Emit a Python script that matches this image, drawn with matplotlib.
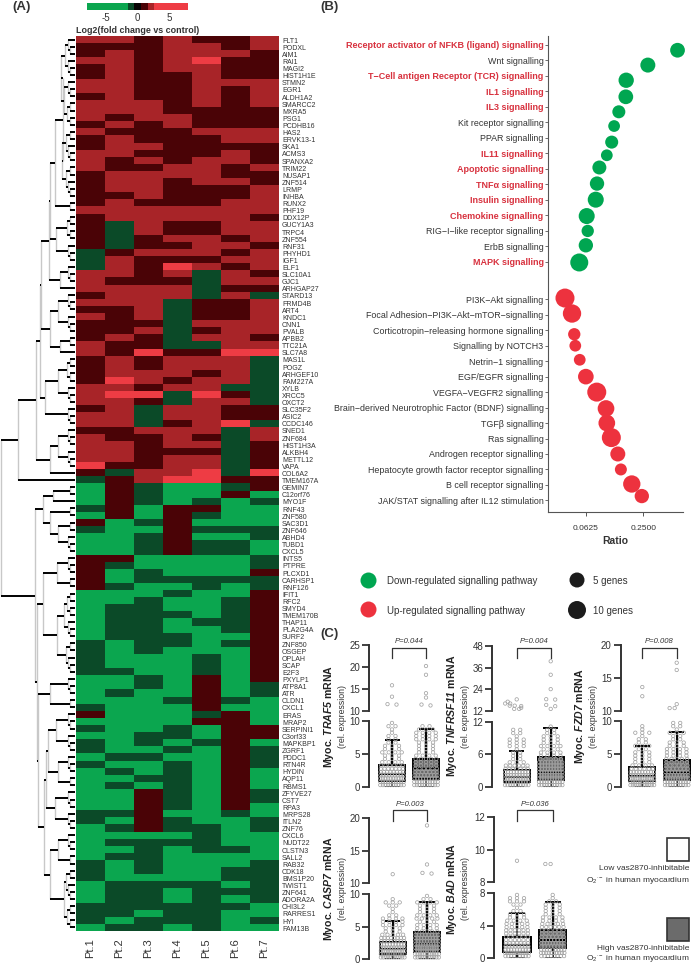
#!/usr/bin/env python3
import matplotlib
matplotlib.use('Agg')
import matplotlib.pyplot as plt
from matplotlib.colors import ListedColormap, BoundaryNorm
from matplotlib.patches import Rectangle
import numpy as np

plt.rcParams['font.family'] = ['Liberation Sans', 'DejaVu Sans']
plt.rcParams['mathtext.fontset'] = 'custom'
plt.rcParams['mathtext.rm'] = 'Liberation Sans'
plt.rcParams['mathtext.it'] = 'Liberation Sans:italic'
plt.rcParams['mathtext.bf'] = 'Liberation Sans:bold'
plt.rcParams['mathtext.bfit'] = 'Liberation Sans:italic:bold'

W, H = 691, 965
TXT = '#333333'

# ---- panel A data
genes = ['FLT1', 'PODXL', 'AIM1', 'RAI1', 'MAGI2', 'HIST1H1E', 'STMN2', 'EGR1', 'ALDH1A2', 'SMARCC2',
         'MXRA5', 'PSG1', 'PCDHB16', 'HAS2', 'ERVK13-1', 'SKA1', 'ACMS3', 'SPANXA2', 'TRIM22', 'NUSAP1',
         'ZNF514', 'LRMP', 'INHBA', 'RUNX2', 'PHF19', 'DDX12P', 'GUCY1A3', 'TRPC4', 'ZNF554', 'RNF31',
         'PHYHD1', 'IGF1', 'ELF1', 'SLC10A1', 'GJC1', 'ARHGAP27', 'STARD13', 'FRMD4B', 'ART4', 'KNDC1',
         'CNN1', 'PVALB', 'APBB2', 'TTC21A', 'SLC7A8', 'MAS1L', 'POGZ', 'ARHGEF10', 'FAM227A', 'XYLB',
         'XRCC5', 'OXCT2', 'SLC35F2', 'ASIC2', 'CCDC146', 'SNED1', 'ZNF684', 'HIST1H3A', 'ALKBH4', 'METTL12',
         'VAPA', 'COL6A2', 'TMEM167A', 'GEMIN7', 'C12orf76', 'MYO1F', 'RNF43', 'ZNF580', 'SAC3D1', 'ZNF646',
         'ABHD4', 'TUBD1', 'CXCL5', 'INTS5', 'PTPRE', 'PLCXD1', 'CARHSP1', 'RNF126', 'IFIT1', 'RFC2',
         'SMYD4', 'TMEM170B', 'THAP11', 'PLA2G4A', 'SURF2', 'ZNF850', 'OSGEP', 'OPLAH', 'SCAP', 'E2F3',
         'PXYLP1', 'ATP8A1', 'ATR', 'CLDN1', 'CXCL1', 'ERAS', 'MRAP2', 'SERPINI1', 'C3orf33', 'MAPKBP1',
         'ZGRF1', 'PDDC1', 'RTN4R', 'HYDIN', 'AQP11', 'RBMS1', 'ZFYVE27', 'CST7', 'RPA3', 'MRPS28',
         'ITLN2', 'ZNF76', 'CXCL6', 'NUDT22', 'CLSTN3', 'SALL2', 'RAB32', 'CDK18', 'BMS1P20', 'TWIST1',
         'ZNF641', 'ADORA2A', 'CHI3L2', 'RARRES1', 'HYI', 'FAM13B']
patients = ['Pt.1', 'Pt.2', 'Pt.3', 'Pt.4', 'Pt.5', 'Pt.6', 'Pt.7']

# one string per heatmap row, one letter per patient
heat_rows = ['RRDRDDR', 'DDDRRDR', 'DRDRRRD', 'RRDRBDD', 'DRDRRDD', 'DRDDRDD', 'RRDDRRR', 'RRDDRDR', 'DRDDRDR',
             'RRRDRDR', 'RRRDDDD', 'RDRRDDD', 'DRDRDDD', 'RDDDRRR', 'DRDDDRR', 'DRRDDDD', 'RRDDDRD', 'RDRDRRD',
             'RDDRRDR', 'DRRRRDD', 'DRRDRRD', 'DRRDDDR', 'DDRDDDR', 'DRDDDRR', 'RRRRRRR', 'DRRRRRD', 'DERDDRR',
             'DERDDRR', 'DEDRRDR', 'DEDDRRD', 'EDRRRDR', 'ERDDDRR', 'ERDBRDR', 'RRDRERD', 'RDDDERR', 'RRRREDD',
             'DRRRERE', 'RRREDDR', 'DDREDDR', 'RDREDDR', 'DDDERRR', 'DDREDRR', 'DRDERRD', 'RDDEERR', 'RDBDDBB',
             'DRDRRRE', 'DRDRRRE', 'DRRRDRE', 'DBRDRRE', 'RRDRREE', 'RBBEBDE', 'RRDERRE', 'DRERRDD', 'RRERRDD',
             'RREDRBE', 'DDRRRER', 'RDDRDER', 'RRDRRED', 'RRDDDED', 'RRDRRED', 'BDDRRED', 'DERRBEB', 'EDRBBDD',
             'GDEGGED', 'GDEGGDG', 'GDEGEGE', 'EDGDDGG', 'GDGDEGG', 'DGEDGGG', 'EGGDEEE', 'GGEDGGE', 'GGEDEEG',
             'GGEDEEG', 'DDGGGGE', 'DEGGGGE', 'DGEGGGD', 'DGEEEEE', 'DEGGEGE', 'GGGEGGD', 'GGEGGED', 'GEEGGED',
             'GEEEGED', 'GEEGEED', 'GEEGGED', 'GEEEGGD', 'EGEEGED', 'EGEGGGD', 'EGGGEGD', 'EGGGEGD', 'EEGGEGD',
             'GGEGDGD', 'GGEGDGE', 'GEGGDGE', 'GGGEDEG', 'EGGGDGG', 'DGGGEDG', 'GGGGDDG', 'EGGEGDD', 'GGEEGDD',
             'EGEGEDG', 'EGGEGDE', 'GEEGGDE', 'EGGEGDE', 'GEGEGDG', 'GGEEGDG', 'GEGEGDG', 'GGDEGDE', 'GGDEGDE',
             'GGDEGDG', 'EEDGGEG', 'EGDEGGE', 'GEDEEGE', 'GGGGEGG', 'GEEEEGG', 'GGEGEEG', 'GEEGGGG', 'EGEGGGE',
             'EGEGGEE', 'EGGGGEE', 'GEEEEGE', 'GEEGEEE', 'GEEGEGE', 'EEEEEEG', 'EEGEEGG', 'EGEEEGE', 'GEEGEGG']
level_values = {'G': -4.0, 'E': -1.0, 'D': 1.2, 'R': 2.2, 'B': 5.0}

# dendrogram: (x of the merge, upper child, lower child); an int is a block of n rows
p1 = (50, (55, (63, 13, 10), 2), (56, 4, 3))
p_all = (49, p1, (60, 3, 1))
q_all = (50, (58, 3, 3), (60, 2, 1))
a_all = (40, (41, p_all, q_all), (45, (58, 4, 3), 3))
upper_tree = (18, (36, a_all, (50, (58, 3, 3), 1)), 1)
l1 = (43, (53, 2, 1), (50, 2, (58, 2, 3)))
l2a = (43, (57, 3, 2), (57, (64, 4, 3), 5))
r95 = (48, (56, 3, 3), (58, 3, 2))
r112 = (50, (58, 3, 2), (64, 5, 4))
l2b = (38, (50, 3, 2), (44, (46, r95, (55, 3, 3)), r112))
lower_tree = (35, l1, (37, l2a, l2b))
root_tree = (1, upper_tree, lower_tree)

# ---- panel B data
down_names = ['Receptor activator of NFKB (ligand) signalling', 'Wnt signalling',
              'T\u2212Cell antigen Receptor (TCR) signalling', 'IL1 signalling', 'IL3 signalling',
              'Kit receptor signalling', 'PPAR signalling', 'IL11 signalling', 'Apoptotic signalling',
              'TNF\u03b1 signalling', 'Insulin signalling', 'Chemokine signalling',
              'RIG\u2212I\u2212like receptor signalling', 'ErbB signalling', 'MAPK signalling']
down_ratio = [0.573, 0.280, 0.166, 0.1645, 0.139, 0.124, 0.117, 0.104, 0.0869, 0.0821, 0.0796, 0.064, 0.0656, 0.0627, 0.0535]
down_genes = [4.6, 5, 5.5, 4.6, 2.2, 0.6, 2.2, 0.6, 3.5, 4, 6.6, 6.6, 1.3, 4, 10]
down_shift = [.34, .30, .28, .35, .32, .24, .28, .13, -.08, -.04, 0, .06, .02, -.05, .06]
down_bold = [1, 0, 1, 1, 1, 0, 0, 1, 1, 1, 1, 1, 0, 0, 1]
up_names = ['PI3K\u2212Akt signalling', 'Focal Adhesion\u2212PI3K\u2212Akt\u2212mTOR\u2212signalling',
            'Corticotropin\u2212releasing hormone signalling', 'Signalling by NOTCH3', 'Netrin\u22121 signalling',
            'EGF/EGFR signalling', 'VEGFA\u2212VEGFR2 signalling',
            'Brain\u2212derived Neurotrophic Factor (BDNF) signalling', 'TGF\u03b2 signalling', 'Ras signalling',
            'Androgen receptor signalling', 'Hepatocyte growth factor receptor signalling',
            'B cell receptor signalling', 'JAK/STAT signalling after IL12 stimulation']
up_ratio = [0.0379, 0.0449, 0.0474, 0.0486, 0.0541, 0.0627, 0.0816, 0.102, 0.104, 0.116, 0.1356, 0.146, 0.190, 0.242]
up_genes = [11.9, 10.6, 1.3, 0.6, 0.6, 6, 11.9, 7.7, 7.7, 11.9, 5, 0.9, 8.8, 4]
up_shift = [-.08, -.08, .26, 0, -.09, 0, 0, .06, 0, -.06, 0, 0, -.06, -.28]

# ---- panel C data: counts per 1/20 of the lower axis, then points on the upper axis
c_titles = ['TRAF5', 'TNFRSF11', 'FZD7', 'CASP7', 'BAD']
c_pvalues = ['P=0.044', 'P=0.004', 'P=0.008', 'P=0.003', 'P=0.036']
c_lower_max = [10, 12, 10, 10, 8]
c_upper_ticks = [[10, 15, 20, 25], [12, 24, 36, 48], [10, 15, 20], [10, 15, 20], [8, 10, 12]]
c_lower_ticks = [[0, 5, 10], [0, 6, 12], [0, 5, 10], [0, 5, 10], [0, 4, 8]]
low_counts = [[10, 10, 10, 9, 8, 7, 6, 4, 3, 3, 4, 3, 3, 2, 2, 2, 1, 1, 2, 1],
              [10, 10, 10, 9, 9, 7, 6, 3, 2, 2, 2, 1, 3, 3, 3, 1, 2, 2, 0, 0],
              [11, 11, 11, 10, 9, 6, 4, 3, 3, 3, 3, 2, 3, 2, 2, 1, 3, 1, 1, 0],
              [11, 11, 11, 10, 9, 8, 8, 5, 3, 3, 4, 4, 4, 2, 1, 1, 2, 3, 1, 0],
              [9, 12, 9, 8, 7, 6, 6, 6, 6, 5, 5, 4, 3, 3, 2, 1, 2, 3, 3, 1]]
high_counts = [[10, 10, 9, 8, 7, 6, 5, 5, 5, 4, 3, 3, 3, 3, 4, 4, 4, 3, 2, 0],
               [10, 10, 10, 10, 10, 9, 9, 9, 5, 4, 4, 3, 4, 3, 3, 3, 2, 2, 1, 0],
               [10, 10, 10, 9, 8, 7, 6, 5, 5, 4, 4, 4, 3, 3, 2, 2, 3, 1, 2, 2],
               [11, 11, 11, 11, 10, 9, 9, 8, 5, 4, 4, 3, 5, 4, 3, 3, 3, 4, 2, 1],
               [8, 10, 9, 8, 9, 8, 7, 6, 6, 6, 5, 4, 4, 3, 3, 3, 3, 2, 1, 1]]
low_upper = [[15.8, 13.2, 11.5, 11.4], [18.3, 17, 16, 16, 14.8, 14.8, 14.6, 13.6, 13, 13], [13.6, 12.2], [11.4], [9.3]]
high_upper = [[20.2, 18.2, 14, 13, 11.4, 11.2], [39.5, 32, 24, 18.4, 18.2, 15.2, 14.5, 13],
              [17.3, 16.2, 11, 10.4, 10.4], [18.9, 12.9, 11.6, 11.5], [9.1, 9.1]]
# q1, median, q3, whisker top
low_box = [[0.9, 1.9, 3.3, 7.2], [0.8, 1.7, 3.1, 6.6], [0.8, 1.7, 3.0, 6.2], [0.8, 1.5, 2.7, 5.9], [0.75, 1.6, 2.6, 5.5]]
high_box = [[1.2, 2.8, 4.3, 8.8], [1.2, 2.6, 5.5, 10.8], [1.0, 2.1, 4.1, 8.4], [1.1, 2.5, 4.2, 8.8], [1.2, 2.2, 3.5, 6.9]]


def px_axes(x0, y0, x1, y1, **kw):
    return fig.add_axes([x0 / W, 1 - y1 / H, (x1 - x0) / W, (y1 - y0) / H], **kw)


def dot_size(g):
    # area grows with the gene count, 5 genes ~15 px wide, 10 genes ~18 px
    d_px = np.sqrt(126 + 19.8 * np.asarray(g, dtype=float))
    return (d_px * 0.72) ** 2


def expand(node):
    # an int block becomes a small binary subtree
    if isinstance(node, tuple):
        return node
    if node == 1:
        return 1
    top = node // 2
    return (75 - 3.4 * np.log2(node) - 1.5, top, node - top)


def draw_tree(ax, node, start):
    node = expand(node)
    if node == 1:
        return 75.0, start + 0.5, 1
    x, a, b = node
    xa, ya, na = draw_tree(ax, a, start)
    xb, yb, nb = draw_tree(ax, b, start + na)
    ax.plot([x, x], [ya, yb], color='#c8c8c8', lw=1.0, solid_capstyle='butt', zorder=1)
    ax.plot([x, xa], [ya, ya], color='black', lw=1.4, solid_capstyle='butt', zorder=2)
    ax.plot([x, xb], [yb, yb], color='black', lw=1.4, solid_capstyle='butt', zorder=2)
    return x, (ya + yb) / 2, na + nb


def swarm_x(center, n, pitch):
    # sparse rows spread across the box, dense ones pack together
    step_px = min(26.0 / max(n, 1), 7.0)
    return center + (np.arange(n) - (n - 1) / 2) * (step_px / pitch)


fig = plt.figure(figsize=(W / 100, H / 100), dpi=100)

# ---- heatmap
heat_colors = ['#0ba64f', '#0b4a28', '#080404', '#4a0306', '#a82428', '#ee3c44']
heat_bounds = [-8, -1.43, -0.5, 0.6, 1.75, 2.7, 8.1]
cmap = ListedColormap(heat_colors)
norm = BoundaryNorm(heat_bounds, cmap.N)
matrix = np.array([[level_values[c] for c in row] for row in heat_rows])

ax = px_axes(76, 36, 279, 931)
ax.imshow(matrix, cmap=cmap, norm=norm, aspect='auto', interpolation='nearest',
          extent=[0, len(patients), len(heat_rows), 0])
ax.set_xticks(np.arange(len(patients)) + 0.5)
ax.set_xticklabels(patients, rotation=90, fontsize=8, color=TXT)
ax.yaxis.tick_right()
ax.set_yticks(np.linspace(0.6, len(heat_rows) - 0.4, len(genes)))
ax.set_yticklabels(genes, fontsize=5, color=TXT)
ax.tick_params(axis='both', length=0)
ax.tick_params(axis='y', pad=2.2)
ax.tick_params(axis='x', pad=5)
for s in ax.spines.values():
    s.set_visible(False)

axd = px_axes(0, 36, 76, 931)
draw_tree(axd, root_tree, 0)
axd.set_xlim(0, 76)
axd.set_ylim(len(heat_rows), 0)
axd.axis('off')

# ---- colour key
axc = px_axes(87, 2.5, 188, 10)
key = np.linspace(-7.95, 8.05, 320).reshape(1, -1)
axc.imshow(key, cmap=cmap, norm=norm, aspect='auto', extent=[-7.95, 8.05, 0, 1], interpolation='nearest')
axc.set_yticks([])
axc.set_xticks([-5, 0, 5])
axc.set_xticklabels(['-5', '0', '5'], fontsize=7, color=TXT)
axc.tick_params(axis='x', length=0, pad=2)
for s in axc.spines.values():
    s.set_visible(False)

# ---- panel B
axb = px_axes(547.7, 36, 683, 512)
axb.set_xscale('log', base=2)
axb.set_xlim(0.02497, 0.654)
axb.set_ylim(30.19, -0.58)
y_down = np.arange(len(down_names))
y_up = np.arange(len(up_names)) + 16.44
axb.scatter(down_ratio, y_down + np.array(down_shift), s=dot_size(down_genes), color='#00a651', lw=0, zorder=3, clip_on=False)
axb.scatter(up_ratio, y_up + np.array(up_shift), s=dot_size(up_genes), color='#ed323e', lw=0, zorder=3, clip_on=False)
axb.set_yticks(np.concatenate([y_down, y_up]))
axb.set_yticklabels(down_names + up_names, fontsize=6.4, color=TXT)
for lab, bold in zip(axb.get_yticklabels(), down_bold + [0] * len(up_names)):
    if bold:
        lab.set_fontweight('bold')
        lab.set_fontsize(6.5)
        lab.set_color('#d8323f')
axb.set_xticks([0.0625, 0.25])
axb.set_xticklabels(['0.0625', '0.2500'], fontsize=6, color=TXT)
axb.minorticks_off()
axb.tick_params(axis='y', length=2, width=0.6, color='#555555', pad=1)
axb.tick_params(axis='x', length=3, width=0.7, color='#555555', pad=6)
axb.spines['top'].set_visible(False)
axb.spines['right'].set_visible(False)
axb.spines['left'].set_color('#555555')
axb.spines['bottom'].set_color('#555555')
axb.set_xlabel('Ratio', fontsize=7.5, fontweight='bold', color=TXT, labelpad=3)

# ---- panel C
c_spine = [369, 492.3, 620.7, 369, 494]
c_low_x = [392, 516.7, 642.3, 392.7, 517]
c_high_x = [426, 550.7, 676.7, 427, 552.7]
c_up_top = [645, 646, 645, 818.3, 817.3]
c_up_bot = [710.7, 710.7, 710.7, 883.3, 881.7]
c_lo_top = [721.3, 721.7, 721.3, 894.3, 893.3]
c_lo_bot = [786.7, 786.7, 786.7, 959, 957.7]
c_bracket = [(.96, .80), (.97, .81), (.96, .80), (1.13, .96), (1.11, .95)]
c_p_y = [641.7, 641.7, 641.7, 804.7, 804.7]

box_width = 26 / 34
for i in range(len(c_titles)):
    pitch = c_high_x[i] - c_low_x[i]
    x0, x1 = c_spine[i], c_spine[i] + 82
    xlim = ((x0 - c_low_x[i]) / pitch, (x1 - c_low_x[i]) / pitch)
    lower = px_axes(x0, c_lo_top[i], x1, c_lo_bot[i])
    upper = px_axes(x0, c_up_top[i], x1, c_up_bot[i])

    stats = []
    for b in (low_box[i], high_box[i]):
        stats.append(dict(med=b[1], q1=b[0], q3=b[2], whislo=0.0, whishi=b[3], fliers=[]))
    res = lower.bxp(stats, positions=[0, 1], widths=box_width, patch_artist=True, showfliers=False,
                    boxprops=dict(edgecolor='black', linewidth=1.4),
                    medianprops=dict(color='black', linewidth=1.6),
                    whiskerprops=dict(color='black', linewidth=1.4),
                    capprops=dict(color='black', linewidth=1.4),
                    manage_ticks=False, zorder=2)
    res['boxes'][0].set_facecolor('white')
    res['boxes'][1].set_facecolor('#6b6b6b')

    ymax = c_lower_max[i]
    for g, counts in enumerate((low_counts[i], high_counts[i])):
        for k, n in enumerate(counts):
            if n > 0:
                yy = np.full(n, (k + 0.5) / 20 * ymax)
                lower.scatter(swarm_x(g, n, pitch), yy, s=6, facecolors='none', edgecolors='#a3a3a3', linewidths=0.55, zorder=3, clip_on=False)
    for g, pts in enumerate((low_upper[i], high_upper[i])):
        span = c_upper_ticks[i][-1] - c_upper_ticks[i][0]
        for j, v in enumerate(pts):
            close = [p for p in pts if abs(p - v) < 0.035 * span]
            pos = close.index(v) if v in close else 0
            off = (pos - (len(close) - 1) / 2) * (9 / 34) if len(close) > 1 else 0
            if pts.count(v) > 1:
                off += (pts[:j].count(v) - 0.5) * (5 / 34)
            upper.scatter([g + off], [v], s=6, facecolors='none', edgecolors='#a3a3a3', linewidths=0.55, zorder=3, clip_on=False)

    lower.set_ylim(0, ymax)
    upper.set_ylim(c_upper_ticks[i][0], c_upper_ticks[i][-1])
    for a, ticks in ((lower, c_lower_ticks[i]), (upper, c_upper_ticks[i])):
        a.set_xlim(*xlim)
        a.set_xticks([])
        a.set_yticks(ticks)
        a.tick_params(axis='y', length=5, width=1.3, color=TXT, labelsize=7, labelcolor=TXT, pad=1.5)
        a.patch.set_alpha(0)
        for s in ('top', 'right', 'bottom'):
            a.spines[s].set_visible(False)
        a.spines['left'].set_linewidth(1.4)
        a.spines['left'].set_color(TXT)
    top_f, bot_f = c_bracket[i]
    upper.plot([0, 0, 1, 1], [bot_f, top_f, top_f, bot_f], color=TXT, lw=0.9, clip_on=False,
               transform=upper.get_xaxis_transform())

# ---- everything placed in figure pixels
ov = fig.add_axes([0, 0, 1, 1], zorder=10)
ov.set_xlim(0, W)
ov.set_ylim(H, 0)
ov.axis('off')
ov.patch.set_alpha(0)
for lab, x, y in (('(A)', 12, 7), ('(B)', 320, 7), ('(C)', 320, 634)):
    ov.text(x, y, lab, fontsize=9.5, fontweight='bold', color=TXT, va='center')
ov.text(76, 30.5, 'Log2(fold change vs control)', fontsize=6.4, fontweight='bold', color=TXT, va='center')

ov.scatter([368], [580], s=(16 * .72) ** 2, color='#00a651', lw=0)
ov.scatter([368], [609], s=(16 * .72) ** 2, color='#ed323e', lw=0)
ov.text(387, 580.5, 'Down-regulated signalling pathway', fontsize=7, color=TXT, va='center')
ov.text(387, 610.5, 'Up-regulated signalling pathway', fontsize=7, color=TXT, va='center')
ov.scatter([577, 577], [580, 610], s=dot_size([5, 10]), color='#1c1c1c', lw=0)
ov.text(593, 581, '5 genes', fontsize=7, color=TXT, va='center')
ov.text(593, 611, '10 genes', fontsize=7, color=TXT, va='center')

c_lab_x = [329, 452, 580, 329, 452]
c_lab_y = [716, 716, 716, 889, 889]
for i, name in enumerate(c_titles):
    ov.text(c_lab_x[i], c_lab_y[i], 'Myoc. $\\mathbfit{%s}$ mRNA' % name, rotation=90, fontsize=7.6, fontweight='bold',
            color='#222222', ha='center', va='center')
    ov.text(c_lab_x[i] + 13.5, c_lab_y[i], '(rel. expression)', rotation=90, fontsize=6.3, color=TXT, ha='center', va='center')
    ov.text((c_low_x[i] + c_high_x[i]) / 2, c_p_y[i], c_pvalues[i], fontsize=5.5, style='italic', color=TXT, ha='center', va='center')

ov.add_patch(Rectangle((667, 838.3), 22.3, 22.7, facecolor='white', edgecolor=TXT, lw=1.2))
ov.add_patch(Rectangle((667, 918.3), 22.3, 22.7, facecolor='#6b6b6b', edgecolor=TXT, lw=1.2))
ov.text(689.5, 869, 'Low vas2870-inhibitable', fontsize=6, color=TXT, ha='right', va='center')
ov.text(689.5, 880, 'O$_2$$^{\\cdot-}$ in human myocardium', fontsize=6, color=TXT, ha='right', va='center')
ov.text(689.5, 948, 'High vas2870-inhibitable', fontsize=6, color=TXT, ha='right', va='center')
ov.text(689.5, 959, 'O$_2$$^{\\cdot-}$ in human myocardium', fontsize=6, color=TXT, ha='right', va='center')

plt.savefig('out.png', dpi=100)
